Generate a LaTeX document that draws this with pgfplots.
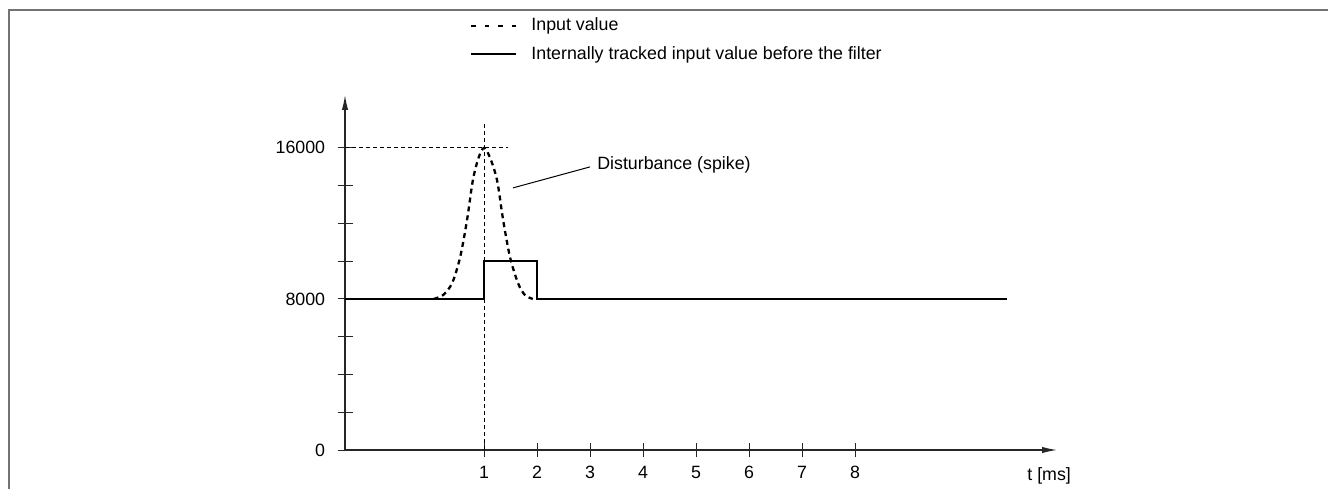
\documentclass[border=0pt]{standalone}
\usepackage{fontspec}
\setmainfont{Liberation Sans}
\usepackage{pgfplots}
\pgfplotsset{compat=1.18}
\usetikzlibrary{arrows.meta}

\begin{document}
\fontsize{8.9bp}{10.7bp}\selectfont
\begin{tikzpicture}
\useasboundingbox (0bp,0bp) rectangle (664bp,244.5bp);
% frame (only top and left edges are visible)
\draw[black!55, line width=1bp] (4.5bp,0bp) -- (4.5bp,239.5bp) -- (664bp,239.5bp);
\begin{axis}[
  at={(172.5bp,19.5bp)}, anchor=south west,
  scale only axis,
  width=356bp, height=177.5bp,
  xmin=-1.623, xmax=11.81,
  ymin=0, ymax=18800,
  axis lines=left,
  axis line style={line width=0.6bp, black!85, -{Latex[length=7.5bp,width=3.2bp]}},
  xtick={1,...,8}, ytick={0,8000,16000},
  minor ytick={2000,4000,6000,10000,12000,14000},
  tick align=center,
  major tick length=7.5bp, minor tick length=7.5bp,
  every tick/.style={line width=0.5bp, black!85},
  scaled y ticks=false,
  /pgf/number format/assume math mode=true,
  /pgf/number format/1000 sep={},
  yticklabel style={anchor=east, inner sep=0pt, xshift=-6bp},
  xticklabel style={anchor=base, inner sep=0pt, yshift=-10.5bp},
  xlabel={t [ms]},
  xlabel style={at={(axis description cs:1,0)}, anchor=base west, inner sep=0pt, xshift=-15bp, yshift=-15bp},
  clip=false,
  legend style={draw=none, fill=none, inner sep=0pt,
    at={(axis description cs:0.1756,1.1549)}, anchor=west,
    nodes={inner sep=0pt}, column sep=7bp, row sep=6.6bp},
  legend cell align=left,
  legend image code/.code={\draw[#1] (0bp,0bp) -- (22.5bp,0bp);},
]
% guide lines
\addplot[forget plot, line width=0.4bp, dash pattern=on 2bp off 1.5bp] coordinates {(-1.623,16000) (1.45,16000)};
\addplot[forget plot, line width=0.4bp, dash pattern=on 2bp off 1.5bp] coordinates {(1,0) (1,17377)};
% input value (spike)
\addplot[line width=1.15bp, dash pattern=on 2.5bp off 2bp, smooth,
  legend image code/.code={\draw[line width=1bp, dash pattern=on 2.25bp off 4.5bp] (0bp,0bp) -- (22.5bp,0bp);}]
  coordinates {(0.05,8000) (0.23,8210) (0.40,8850) (0.55,10220) (0.68,12190) (0.79,14300) (0.9,15500) (1,16000)
               (1.11,15500) (1.245,14300) (1.36,12190) (1.49,10220) (1.64,8850) (1.77,8210) (1.92,8000)};
% internally tracked value
\addplot[line width=1bp, sharp plot]
  coordinates {(-1.623,8000) (1,8000) (1,10000) (2,10000) (2,8000) (10.87,8000)};
\legend{Input value, Internally tracked input value before the filter}
\draw[line width=0.5bp] (axis cs:1.547,13881) -- (axis cs:3.0,14993);
\node[anchor=base west, inner sep=0pt] at (axis cs:3.13,14872) {Disturbance (spike)};
\end{axis}
\end{tikzpicture}
\end{document}
